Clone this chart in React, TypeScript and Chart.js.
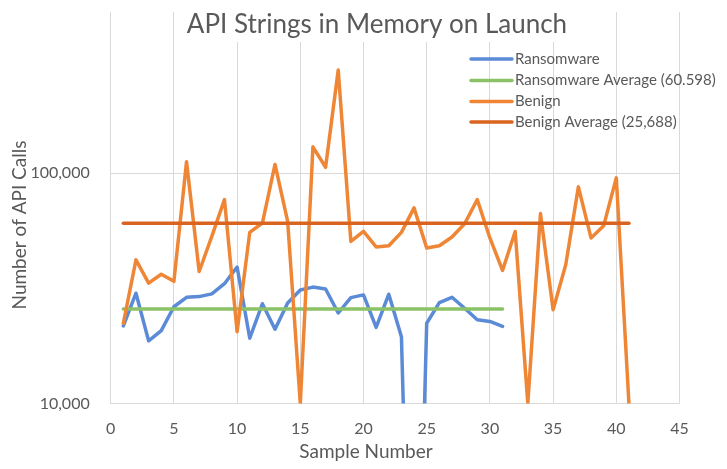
import React, { useEffect, useRef } from "react";
import { Chart, registerables } from "chart.js";

Chart.register(...registerables);

const TITLE = "API Strings in Memory on Launch";
const X_TITLE = "Sample Number";
const Y_TITLE = "Number of API Calls";

const ransomwareX = [1, 2, 3, 4, 5, 6, 7, 8, 9, 10, 11, 12, 13, 14, 15, 16, 17, 18, 19, 20, 21, 22, 23, 24, 25, 26, 27, 28, 29, 30, 31];
const ransomwareY = [21700, 30100, 18700, 20700, 26300, 28900, 29100, 29900, 33100, 39100, 19200, 27100, 21000, 27300, 31100, 32000, 31400, 24700, 28800, 29600, 21400, 29800, 19500, 200, 22300, 27400, 28900, 25900, 23100, 22700, 21600];

const benignX = [1, 2, 3, 4, 5, 6, 7, 8, 9, 10, 11, 12, 13, 14, 15, 16, 17, 18, 19, 20, 21, 22, 23, 24, 25, 26, 27, 28, 29, 30, 31, 32, 33, 34, 35, 36, 37, 38, 39, 40, 41];
const benignY = [22300, 42000, 33300, 36400, 33900, 112000, 37400, 53100, 76700, 20500, 55300, 60700, 109000, 61700, 10000, 130000, 106000, 280000, 50500, 55800, 47800, 48400, 55300, 70600, 47300, 48400, 52800, 60300, 76700, 52300, 37800, 55800, 10000, 66700, 25500, 40000, 87100, 52300, 59100, 95300, 10000];

const ransomwareAvgX = [1, 31];
const ransomwareAvgY = [25688, 25688];
const benignAvgX = [1, 41];
const benignAvgY = [60598, 60598];

const seriesLabels = ["Ransomware", "Ransomware Average (60.598)", "Benign", "Benign Average (25,688)"];
const seriesColors = ["#5B8BD6", "#8CC267", "#EF8636", "#D8641F"];

const xTicks = [0, 5, 10, 15, 20, 25, 30, 35, 40, 45];
const yTicks = [10000, 100000];

const TEXT = "#595959";
const GRID = "#D9D9D9";
const FONT = "Lato";

const pts = (xs: number[], ys: number[]) => xs.map((x, i) => ({ x, y: ys[i] }));

const overlayPlugin = {
  id: "overlay",
  beforeDatasetsDraw(chart: any) {
    const ctx = chart.ctx;
    ctx.save();
    ctx.fillStyle = "#ffffff";
    ctx.fillRect(178, 0, 404, 42);
    ctx.fillStyle = TEXT;
    ctx.font = `26px ${FONT}`;
    ctx.textAlign = "center";
    ctx.textBaseline = "alphabetic";
    ctx.fillText(TITLE, 377, 33);
    ctx.restore();
  },
  afterDraw(chart: any) {
    const ctx = chart.ctx;
    ctx.save();
    const rows = [59, 80.5, 101.5, 122];
    chart.data.datasets.forEach((ds: any, i: number) => {
      const y = rows[i];
      ctx.strokeStyle = ds.borderColor;
      ctx.lineWidth = 3.5;
      ctx.lineCap = "round";
      ctx.beginPath();
      ctx.moveTo(471, y);
      ctx.lineTo(512, y);
      ctx.stroke();
      ctx.fillStyle = TEXT;
      ctx.font = `15px ${FONT}`;
      ctx.textAlign = "left";
      ctx.textBaseline = "middle";
      ctx.fillText(ds.label, 515, y);
    });
    ctx.fillStyle = TEXT;
    ctx.font = `19px ${FONT}`;
    ctx.textAlign = "center";
    ctx.textBaseline = "middle";
    ctx.fillText(X_TITLE, 366, 452);
    ctx.translate(20, 225);
    ctx.rotate(-Math.PI / 2);
    ctx.fillText(Y_TITLE, 0, 0);
    ctx.restore();
  },
};

export default function App() {
  const ref = useRef<HTMLCanvasElement | null>(null);

  useEffect(() => {
    document.body.style.margin = "0";
    const canvas = ref.current;
    if (!canvas) return;
    const common = {
      fill: false,
      pointRadius: 0,
      pointHoverRadius: 0,
      borderWidth: 3.5,
      tension: 0,
      borderJoinStyle: "round" as const,
      borderCapStyle: "round" as const,
    };
    const chart = new Chart(canvas, {
      type: "line",
      data: {
        datasets: [
          { ...common, label: seriesLabels[0], data: pts(ransomwareX, ransomwareY), borderColor: seriesColors[0], backgroundColor: seriesColors[0], order: 4 },
          { ...common, label: seriesLabels[1], data: pts(ransomwareAvgX, ransomwareAvgY), borderColor: seriesColors[1], backgroundColor: seriesColors[1], order: 3 },
          { ...common, label: seriesLabels[2], data: pts(benignX, benignY), borderColor: seriesColors[2], backgroundColor: seriesColors[2], order: 2 },
          { ...common, label: seriesLabels[3], data: pts(benignAvgX, benignAvgY), borderColor: seriesColors[3], backgroundColor: seriesColors[3], order: 1 },
        ],
      },
      options: {
        animation: false,
        responsive: false,
        maintainAspectRatio: false,
        layout: { padding: { left: 0, top: 12, right: 47.5, bottom: 0 } },
        plugins: {
          legend: { display: false },
          title: { display: false },
          tooltip: { enabled: false },
        },
        scales: {
          x: {
            type: "linear",
            min: 0,
            max: 45,
            afterBuildTicks: (scale: any) => {
              scale.ticks = xTicks.map((v) => ({ value: v }));
            },
            afterFit: (scale: any) => {
              scale.height = 469 - 403.5;
              scale.paddingLeft = 0;
              scale.paddingRight = 0;
            },
            grid: { color: GRID, lineWidth: 1, drawTicks: false },
            border: { color: GRID, width: 1 },
            ticks: {
              color: TEXT,
              font: { family: FONT, size: 16 },
              padding: 16,
              maxRotation: 0,
              autoSkip: false,
            },
          },
          y: {
            type: "logarithmic",
            min: 10000,
            max: 500000,
            afterBuildTicks: (scale: any) => {
              scale.ticks = yTicks.map((v) => ({ value: v }));
            },
            afterFit: (scale: any) => {
              scale.width = 110.7;
              scale.paddingTop = 0;
              scale.paddingBottom = 0;
            },
            grid: { color: GRID, lineWidth: 1, drawTicks: false },
            border: { color: GRID, width: 1 },
            ticks: {
              color: TEXT,
              font: { family: FONT, size: 16 },
              padding: 21,
              autoSkip: false,
              callback: (v: any) => Number(v).toLocaleString("en-US"),
            },
          },
        },
      },
      plugins: [overlayPlugin],
    });
    return () => chart.destroy();
  }, []);

  return (
    <div style={{ width: 727, height: 469 }}>
      <canvas ref={ref} width={727} height={469} style={{ display: "block", width: 727, height: 469 }} />
    </div>
  );
}
